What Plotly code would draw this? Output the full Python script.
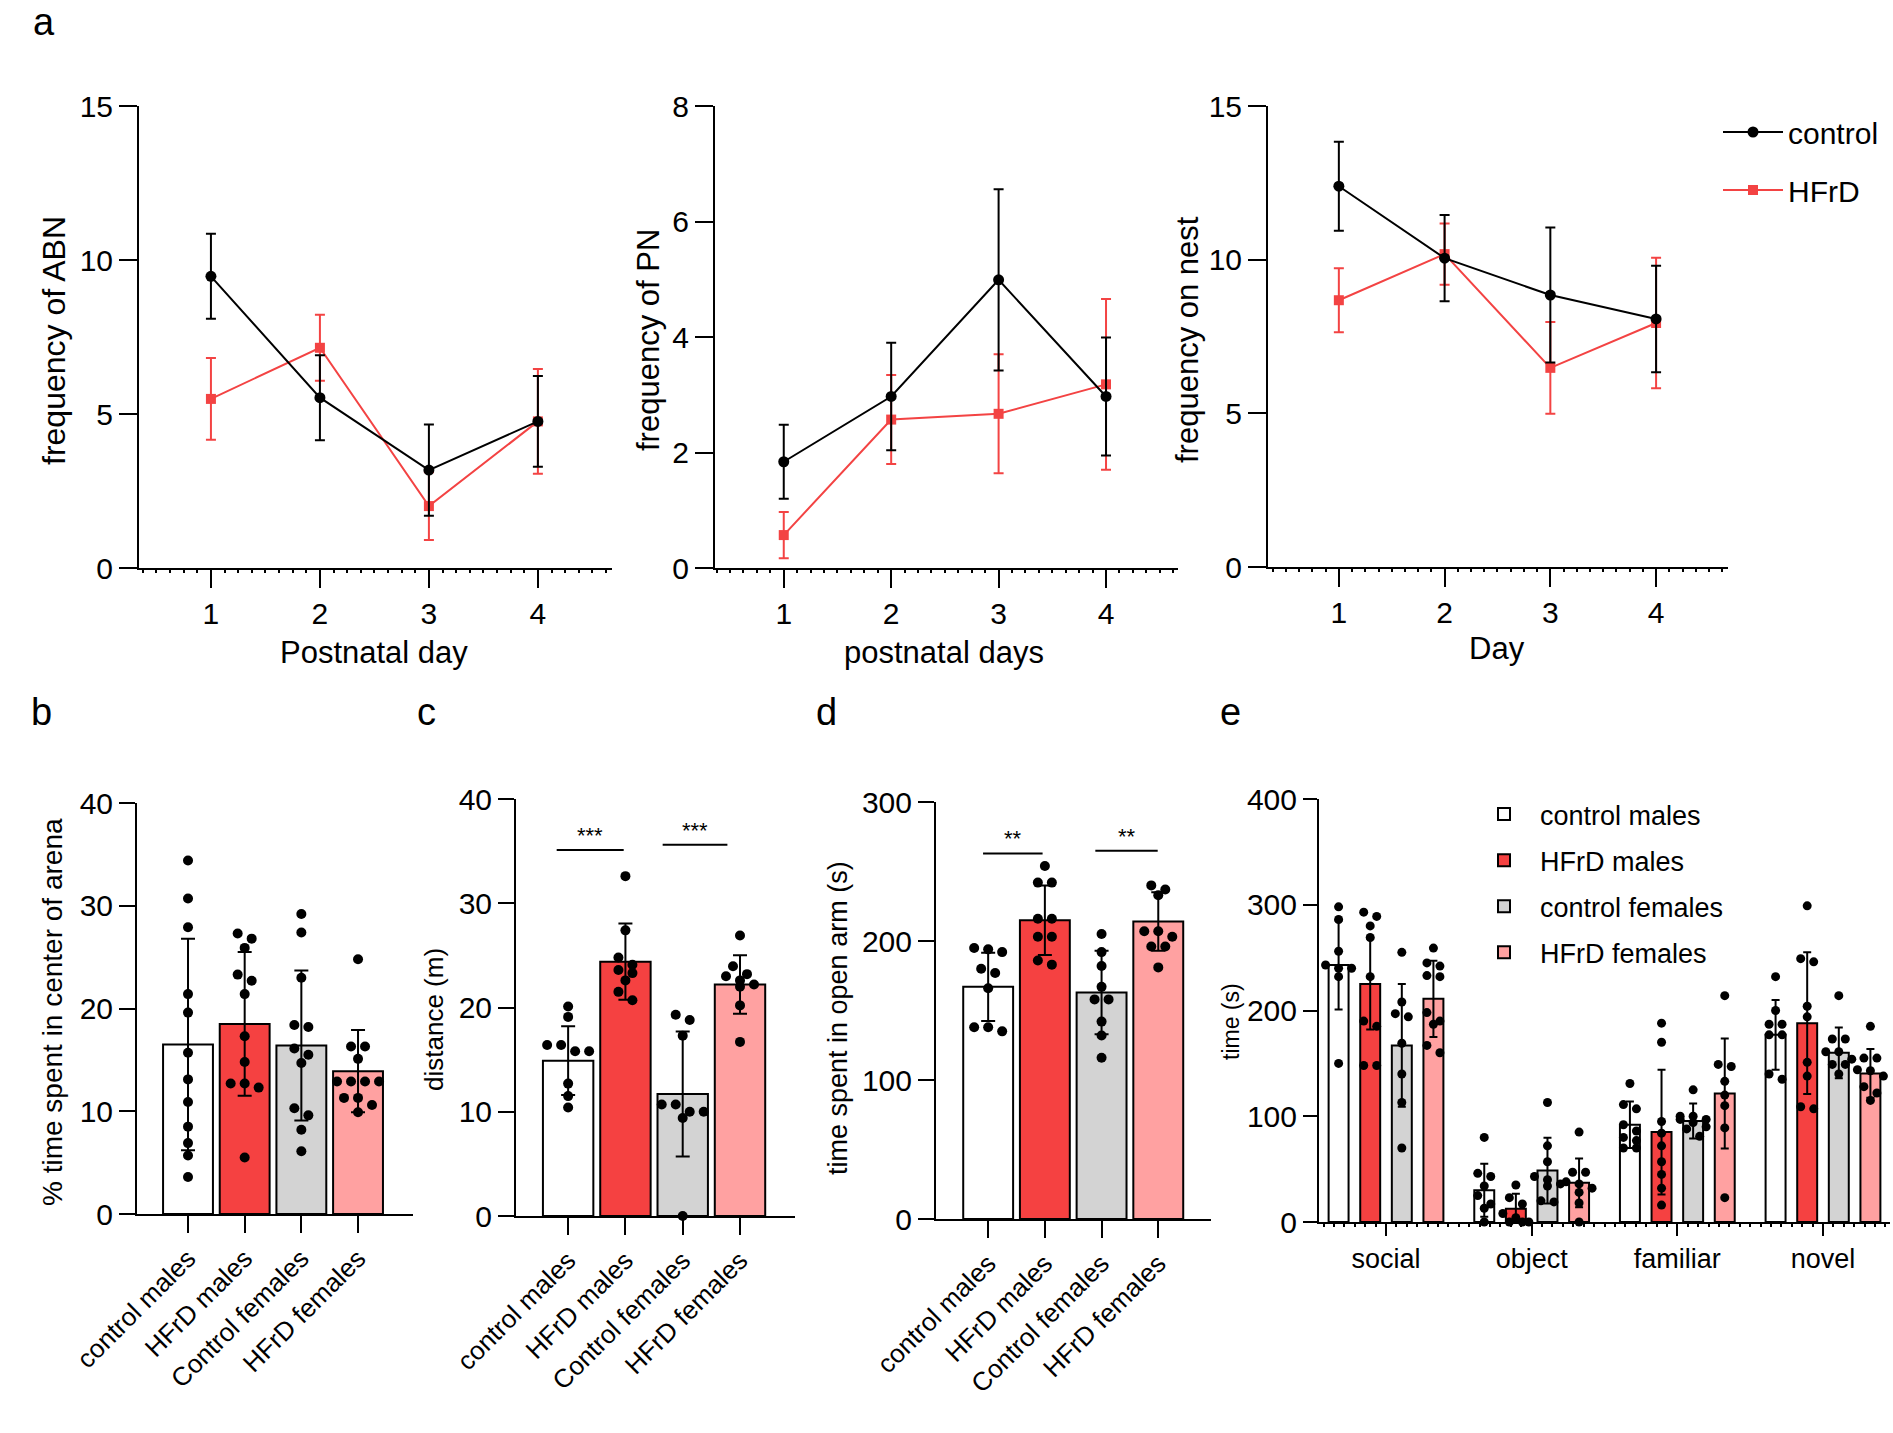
import plotly.graph_objects as go

W, H = 1893, 1433
FONT = "Liberation Sans, Arial, sans-serif"

# ---------------- data: panel a ----------------
days = [1, 2, 3, 4]
abn_control = [9.47, 5.53, 3.18, 4.76]
abn_control_err = [1.38, 1.38, 1.48, 1.47]
abn_hfrd = [5.49, 7.15, 2.01, 4.76]
abn_hfrd_err = [1.33, 1.07, 1.10, 1.70]

pn_control = [1.84, 2.97, 4.99, 2.97]
pn_control_err = [0.64, 0.93, 1.57, 1.02]
pn_hfrd = [0.57, 2.57, 2.67, 3.18]
pn_hfrd_err = [0.40, 0.77, 1.03, 1.48]

nest_control = [12.39, 10.05, 8.85, 8.07]
nest_control_err = [1.45, 1.40, 2.20, 1.73]
nest_hfrd = [8.68, 10.18, 6.48, 7.94]
nest_hfrd_err = [1.04, 1.00, 1.49, 2.12]

# ---------------- data: panels b-d ----------------
group_ticks = ["control males", "HFrD males", "Control females", "HFrD females"]
group_legend = ["control males", "HFrD males", "control females", "HFrD females"]

b_mean = [16.5, 18.5, 16.4, 13.9]
b_sd = [10.3, 7.0, 7.3, 4.0]
b_points = [
    [34.4, 30.7, 27.9, 21.4, 19.6, 15.7, 13.1, 10.9, 8.5, 6.9, 5.7, 3.6],
    [27.3, 26.8, 25.9, 23.3, 22.7, 21.4, 17.3, 14.8, 12.7, 12.7, 12.3, 5.5],
    [29.2, 27.4, 23.0, 18.4, 18.2, 16.1, 15.5, 14.7, 10.3, 9.6, 8.2, 6.1],
    [24.8, 16.3, 16.3, 15.1, 12.9, 12.9, 12.9, 12.9, 11.3, 11.3, 10.6, 9.9],
]

c_mean = [14.9, 24.4, 11.7, 22.2]
c_sd = [3.3, 3.65, 6.0, 2.8]
c_points = [
    [20.1, 19.1, 16.4, 16.4, 15.8, 15.8, 12.7, 11.5, 10.4],
    [32.6, 27.4, 24.8, 24.1, 23.6, 23.3, 22.6, 21.5, 20.7],
    [19.3, 18.8, 17.3, 10.7, 10.7, 10.0, 10.0, 9.4, 0.0],
    [26.9, 23.95, 23.2, 23.0, 22.6, 22.2, 22.0, 20.2, 16.7],
]
c_sig_y = [35.1, 35.6]
c_sig_x = [(-0.20, 0.97), (1.65, 2.78)]
c_sig_text = ["***", "***"]

d_mean = [167, 215, 163, 214]
d_sd = [24.6, 25.0, 30.0, 21.0]
d_points = [
    [195, 194, 192, 180, 177, 166, 138, 138, 135],
    [254, 242, 242, 216, 216, 203, 203, 186, 183],
    [205, 192, 182, 167, 158, 158, 142, 132, 116],
    [240, 237, 233, 207, 207, 203, 196, 196, 181],
]
d_sig_y = [263, 265]
d_sig_x = [(-0.09, 0.96), (1.89, 2.99)]
d_sig_text = ["**", "**"]

# ---------------- data: panel e ----------------
e_cats = ["social", "object", "familiar", "novel"]
e_cm_mean = [243, 30, 92, 177]
e_cm_sd = [42, 25, 22, 33]
e_hm_mean = [225, 12.6, 85, 188]
e_hm_sd = [43, 14, 59, 67]
e_cf_mean = [167, 48.6, 95.5, 160]
e_cf_sd = [58, 31, 16.5, 24]
e_hf_mean = [211, 37, 121.6, 140.5]
e_hf_sd = [36, 23, 52, 23]

e_cm_points = [[298, 286, 256, 243, 240, 240, 232, 150],
               [80, 46, 43, 34, 25, 17, 13, 0],
               [131, 111, 107, 92, 86, 80, 77, 70, 70],
               [232, 200, 187, 187, 177, 177, 140, 135]]
e_hm_points = [[293, 289, 280, 269, 232, 190, 185, 148, 148],
               [35, 23, 17, 8, 4, 0, 0, 0],
               [188, 170, 95, 84, 72, 57, 45, 32, 16],
               [299, 249, 246, 204, 194, 151, 138, 109, 107]]
e_cf_points = [[255, 208, 197, 194, 169, 140, 113, 70],
               [113, 72, 57, 43, 40, 36, 34, 20, 19],
               [125, 100, 100, 97, 97, 94, 90, 88, 81],
               [214, 173, 173, 161, 161, 154, 149, 149, 140]]
e_hf_points = [[259, 245, 242, 233, 232, 198, 190, 187, 167, 160],
               [85, 47, 47, 38, 36, 32, 28, 18, 0],
               [214, 149, 147, 133, 120, 110, 89, 23],
               [185, 155, 155, 144, 143, 138, 128, 122, 115]]

# ---------------- styles ----------------
RED = "#F34343"
BAR_COLORS = ["#FFFFFF", "#F54141", "#D3D3D3", "#FFA1A1"]
NUM_TICK = 30


def fx(px):
    return px / W


def fy(py):
    return 1 - py / H


def swarm(values, ppu, spacing_px, dot_px=9, step_px=14, max_row=4):
    """Beeswarm-like horizontal offsets (category units) for overlapping points."""
    order = sorted(range(len(values)), key=lambda i: -values[i])
    rows = []
    for i in order:
        if rows and abs(values[rows[-1][0]] - values[i]) * ppu < dot_px and len(rows[-1]) < max_row:
            rows[-1].append(i)
        else:
            rows.append([i])
    off = [0.0] * len(values)
    for row in rows:
        n = len(row)
        for k, i in enumerate(row):
            off[i] = (k - (n - 1) / 2) * step_px / spacing_px
    return off


fig = go.Figure()

# panel geometry in pixels: (x0, x1), (ytop, ybottom)
geo = {
    1: dict(x=(139, 612), y=(106, 568), xr=[0.34, 4.68], yr=[0, 15], dt=5),
    2: dict(x=(715, 1178), y=(106, 568), xr=[0.36, 4.67], yr=[0, 8], dt=2),
    3: dict(x=(1268, 1728), y=(106, 567), xr=[0.33, 4.68], yr=[0, 15], dt=5),
    4: dict(x=(137, 413), y=(803, 1214), xr=[-0.9, 3.97], yr=[0, 40], dt=10),
    5: dict(x=(516, 795), y=(799, 1216), xr=[-0.91, 3.96], yr=[0, 40], dt=10),
    6: dict(x=(936, 1211), y=(802, 1219), xr=[-0.92, 3.93], yr=[0, 300], dt=100),
    7: dict(x=(1319, 1890), y=(799, 1222), xr=[-0.46, 3.46], yr=[0, 400], dt=100),
}

# ---------------- panel a traces ----------------
a_sets = [
    (1, abn_control, abn_control_err, abn_hfrd, abn_hfrd_err),
    (2, pn_control, pn_control_err, pn_hfrd, pn_hfrd_err),
    (3, nest_control, nest_control_err, nest_hfrd, nest_hfrd_err),
]
for k, ctl, ctl_e, hf, hf_e in a_sets:
    xa = "x" if k == 1 else f"x{k}"
    ya = "y" if k == 1 else f"y{k}"
    show = (k == 3)
    fig.add_trace(go.Scatter(
        x=days, y=hf, mode="lines+markers", name="HFrD", legendgroup="hfrd",
        legendrank=2, showlegend=show, legend="legend",
        line=dict(color=RED, width=2),
        marker=dict(symbol="square", size=10, color=RED),
        error_y=dict(type="data", array=hf_e, color=RED, thickness=2, width=5),
        xaxis=xa, yaxis=ya, cliponaxis=False))
    fig.add_trace(go.Scatter(
        x=days, y=ctl, mode="lines+markers", name="control", legendgroup="control",
        legendrank=1, showlegend=show, legend="legend",
        line=dict(color="black", width=2),
        marker=dict(symbol="circle", size=11, color="black"),
        error_y=dict(type="data", array=ctl_e, color="black", thickness=2, width=5),
        xaxis=xa, yaxis=ya, cliponaxis=False))

# ---------------- panels b-d ----------------
bcd_sets = [(4, b_mean, b_sd, b_points), (5, c_mean, c_sd, c_points), (6, d_mean, d_sd, d_points)]
for k, mean, sd, pts in bcd_sets:
    g = geo[k]
    ppu = (g["y"][1] - g["y"][0]) / (g["yr"][1] - g["yr"][0])
    spacing = (g["x"][1] - g["x"][0]) / (g["xr"][1] - g["xr"][0])
    xa, ya = f"x{k}", f"y{k}"
    fig.add_trace(go.Bar(
        x=[0, 1, 2, 3], y=mean, width=0.88, showlegend=False,
        marker=dict(color=BAR_COLORS, line=dict(color="black", width=2)),
        xaxis=xa, yaxis=ya))
    for gi in range(4):
        off = swarm(pts[gi], ppu, spacing)
        fig.add_trace(go.Scatter(
            x=[gi + o for o in off], y=pts[gi], mode="markers", showlegend=False,
            marker=dict(color="black", size=10), xaxis=xa, yaxis=ya, cliponaxis=False))
    fig.add_trace(go.Scatter(
        x=[0, 1, 2, 3], y=mean, mode="markers", showlegend=False,
        marker=dict(size=1, color="rgba(0,0,0,0)"),
        error_y=dict(type="data", array=sd, arrayminus=[min(s, m) for s, m in zip(sd, mean)],
                     color="black", thickness=2, width=7),
        xaxis=xa, yaxis=ya, cliponaxis=False))

# ---------------- panel e ----------------
e_means = [e_cm_mean, e_hm_mean, e_cf_mean, e_hf_mean]
e_sds = [e_cm_sd, e_hm_sd, e_cf_sd, e_hf_sd]
e_pts = [e_cm_points, e_hm_points, e_cf_points, e_hf_points]
BAR_STEP = 0.217
E_WIDTH = 0.137
g = geo[7]
ppu_e = (g["y"][1] - g["y"][0]) / (g["yr"][1] - g["yr"][0])
spacing_e = (g["x"][1] - g["x"][0]) / (g["xr"][1] - g["xr"][0])
for gi in range(4):
    off_g = (gi - 1.5) * BAR_STEP
    xs = [c + off_g for c in range(4)]
    fig.add_trace(go.Bar(
        x=xs, y=e_means[gi], width=E_WIDTH, name=group_legend[gi], legend="legend2",
        legendgroup=f"e{gi}",
        marker=dict(color=BAR_COLORS[gi], line=dict(color="black", width=2)),
        xaxis="x7", yaxis="y7"))
for gi in range(4):
    off_g = (gi - 1.5) * BAR_STEP
    for c in range(4):
        vals = e_pts[gi][c]
        off = swarm(vals, ppu_e, spacing_e, dot_px=9, step_px=13, max_row=3)
        fig.add_trace(go.Scatter(
            x=[c + off_g + o for o in off], y=vals, mode="markers", showlegend=False,
            marker=dict(color="black", size=9), xaxis="x7", yaxis="y7", cliponaxis=False))
    fig.add_trace(go.Scatter(
        x=[c + off_g for c in range(4)], y=e_means[gi], mode="markers", showlegend=False,
        marker=dict(size=1, color="rgba(0,0,0,0)"),
        error_y=dict(type="data", array=e_sds[gi],
                     arrayminus=[min(s, m) for s, m in zip(e_sds[gi], e_means[gi])],
                     color="black", thickness=2, width=4),
        xaxis="x7", yaxis="y7", cliponaxis=False))

# ---------------- axes ----------------
base = dict(showline=True, linecolor="black", linewidth=2, ticks="outside", tickcolor="black",
            tickwidth=2, showgrid=False, zeroline=False, fixedrange=True,
            tickfont=dict(size=NUM_TICK, color="black", family=FONT))
layout_axes = {}
for k, g in geo.items():
    xn = "xaxis" if k == 1 else f"xaxis{k}"
    yn = "yaxis" if k == 1 else f"yaxis{k}"
    ya = "y" if k == 1 else f"y{k}"
    xa = "x" if k == 1 else f"x{k}"
    xd = dict(base, domain=[fx(g["x"][0]), fx(g["x"][1])], range=g["xr"], anchor=ya)
    yd = dict(base, domain=[fy(g["y"][1]), fy(g["y"][0])], range=g["yr"], anchor=xa,
              tickmode="linear", tick0=0, dtick=g["dt"])
    if k <= 3:
        xd.update(tickvals=days, ticklen=18,
                  minor=dict(dtick=0.125, tick0=0, ticks="outside", ticklen=3, tickwidth=2,
                             tickcolor="black", showgrid=False))
        yd.update(ticklen=18)
    elif k <= 6:
        xd.update(tickvals=[0, 1, 2, 3], ticktext=group_ticks, ticklen=17, tickangle=-45,
                  tickfont=dict(size=26, color="black", family=FONT))
        yd.update(ticklen=16)
    else:
        xd.update(tickvals=[0, 1, 2, 3], ticktext=e_cats, ticklen=12,
                  tickfont=dict(size=27, color="black", family=FONT),
                  minor=dict(dtick=1 / 14, tick0=0, ticks="outside", ticklen=3, tickwidth=2,
                             tickcolor="black", showgrid=False))
        yd.update(ticklen=14)
    layout_axes[xn] = xd
    layout_axes[yn] = yd

# ---------------- annotations ----------------
ann = []


def text(px, py, s, size, angle=0, xanchor="center", yanchor="middle"):
    ann.append(dict(x=fx(px), y=fy(py), xref="paper", yref="paper", text=s, showarrow=False,
                    textangle=angle, xanchor=xanchor, yanchor=yanchor,
                    font=dict(size=size, color="black", family=FONT)))


for lbl, px, py in [("a", 44, 22), ("b", 41, 712), ("c", 426, 712), ("d", 826, 712), ("e", 1230, 712)]:
    text(px, py, lbl, 38)

text(54, 341, "frequency of ABN", 32, -90)
text(374, 652, "Postnatal day", 31)
text(648, 340, "frequency of PN", 31, -90)
text(944, 652, "postnatal days", 31)
text(1187, 340, "frequency on nest", 31, -90)
text(1497, 648, "Day", 31)
text(52, 1012, "% time spent in center of arena", 28, -90)
text(434, 1020, "distance (m)", 26, -90)
text(838, 1018, "time spent in open arm (s)", 27, -90)
text(1231, 1022, "time (s)", 23, -90)

shapes = []
for k, sig_y, sig_x, sig_t in [(5, c_sig_y, c_sig_x, c_sig_text), (6, d_sig_y, d_sig_x, d_sig_text)]:
    for yv, (x0, x1), t in zip(sig_y, sig_x, sig_t):
        shapes.append(dict(type="line", xref=f"x{k}", yref=f"y{k}", x0=x0, x1=x1,
                           y0=yv, y1=yv, line=dict(color="black", width=2)))
        ann.append(dict(x=(x0 + x1) / 2, y=yv, xref=f"x{k}", yref=f"y{k}", text=t, showarrow=False,
                        yanchor="bottom", yshift=0, font=dict(size=22, color="black", family=FONT)))

fig.update_layout(
    width=W, height=H, margin=dict(l=0, r=0, t=0, b=0, pad=0, autoexpand=False),
    paper_bgcolor="white", plot_bgcolor="white",
    font=dict(family=FONT, color="black", size=24),
    showlegend=True, barmode="overlay",
    legend=dict(x=fx(1718), y=fy(106), xanchor="left", yanchor="top",
                font=dict(size=30, color="black", family=FONT), bgcolor="rgba(0,0,0,0)",
                tracegroupgap=16, itemwidth=60),
    legend2=dict(x=fx(1468), y=fy(790), xanchor="left", yanchor="top",
                 font=dict(size=27, color="black", family=FONT), bgcolor="rgba(0,0,0,0)",
                 tracegroupgap=8, itemwidth=62),
    annotations=ann, shapes=shapes,
    **layout_axes,
)

fig.write_html("out.html", config={"displayModeBar": False},
               post_script="document.body.style.margin='0';document.body.style.overflow='hidden';")
